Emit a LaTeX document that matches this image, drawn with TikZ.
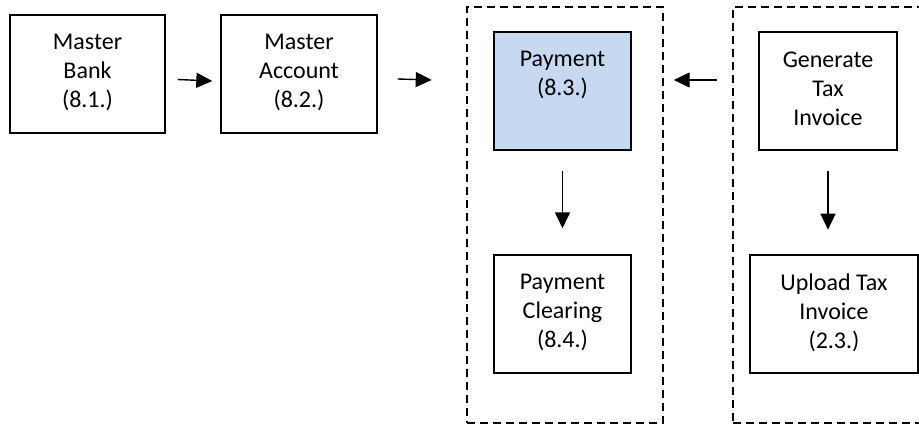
\documentclass[tikz,border=0pt]{standalone}
\usepackage{fontspec}
\setmainfont{Carlito}
\usetikzlibrary{arrows.meta,calc}
\definecolor{paleblue}{RGB}{198,217,240}
\tikzset{
  box/.style={draw=black, line width=1.4pt, rectangle, inner sep=0pt},
  group/.style={draw=black, line width=1.6pt, dash pattern=on 8pt off 5pt, rectangle, inner sep=0pt},
  txt/.style={anchor=north, align=center, inner sep=0pt, font=\fontsize{24}{29}\selectfont},
  arr/.style={line width=1.4pt, -{Triangle[length=16pt,width=15pt]}}
}
\begin{document}
\begin{tikzpicture}[x=1pt,y=-1pt]
  \useasboundingbox (0,0) rectangle (919,426);
  \clip (0,0) rectangle (919,426);

  % dashed groups
  \node[group, minimum width=196pt, minimum height=416pt] (g1) at (565,215) {};
  \node[group, minimum width=200pt, minimum height=416pt] (g2) at (833,215) {};

  % process boxes
  \node[box, minimum width=155pt, minimum height=118pt] (bank) at (87.5,74) {};
  \node[box, minimum width=156pt, minimum height=118pt] (acct) at (299,74) {};
  \node[box, fill=paleblue, minimum width=137pt, minimum height=118pt] (pay) at (562.5,91) {};
  \node[box, minimum width=138pt, minimum height=118pt] (gen) at (828,91) {};
  \node[box, minimum width=137pt, minimum height=118pt] (clear) at (562.5,314) {};
  \node[box, minimum width=168pt, minimum height=118pt] (upload) at (834,314) {};

  % box texts, set from the top of each box
  \node[txt] (tbank) at ($(bank.north)+(0,20)$) {Master\\Bank\\(8.1.)};
  \node[txt] (tacct) at ($(acct.north)+(0,20)$) {Master\\Account\\(8.2.)};
  \node[txt] (tpay) at ($(pay.north)+(0,20)$) {Payment\\(8.3.)};
  \node[txt] (tgen) at ($(gen.north)+(0,20)$) {Generate\\Tax\\Invoice};
  \node[txt] (tclear) at ($(clear.north)+(0,20)$) {Payment\\Clearing\\(8.4.)};
  \node[txt] (tupload) at ($(upload.north)+(0,19)$) {Upload Tax\\Invoice\\(2.3.)};

  % connectors
  \draw[arr] ($(bank.east)+(12,5.5)$) -- ($(acct.west)+(-8,7)$);
  \draw[arr] ($(acct.east)+(20,5)$) -- ($(acct.east)+(54,6)$);
  \draw[arr] ($(gen.west)+(-41,-11)$) -- ($(pay.east)+(42,-11)$);
  \draw[arr] ($(pay.south)+(0,20)$) -- ($(clear.north)+(0,-26)$);
  \draw[arr] ($(gen.south)+(0,20)$) -- ($(gen.south)+(0,79)$);
\end{tikzpicture}
\end{document}
